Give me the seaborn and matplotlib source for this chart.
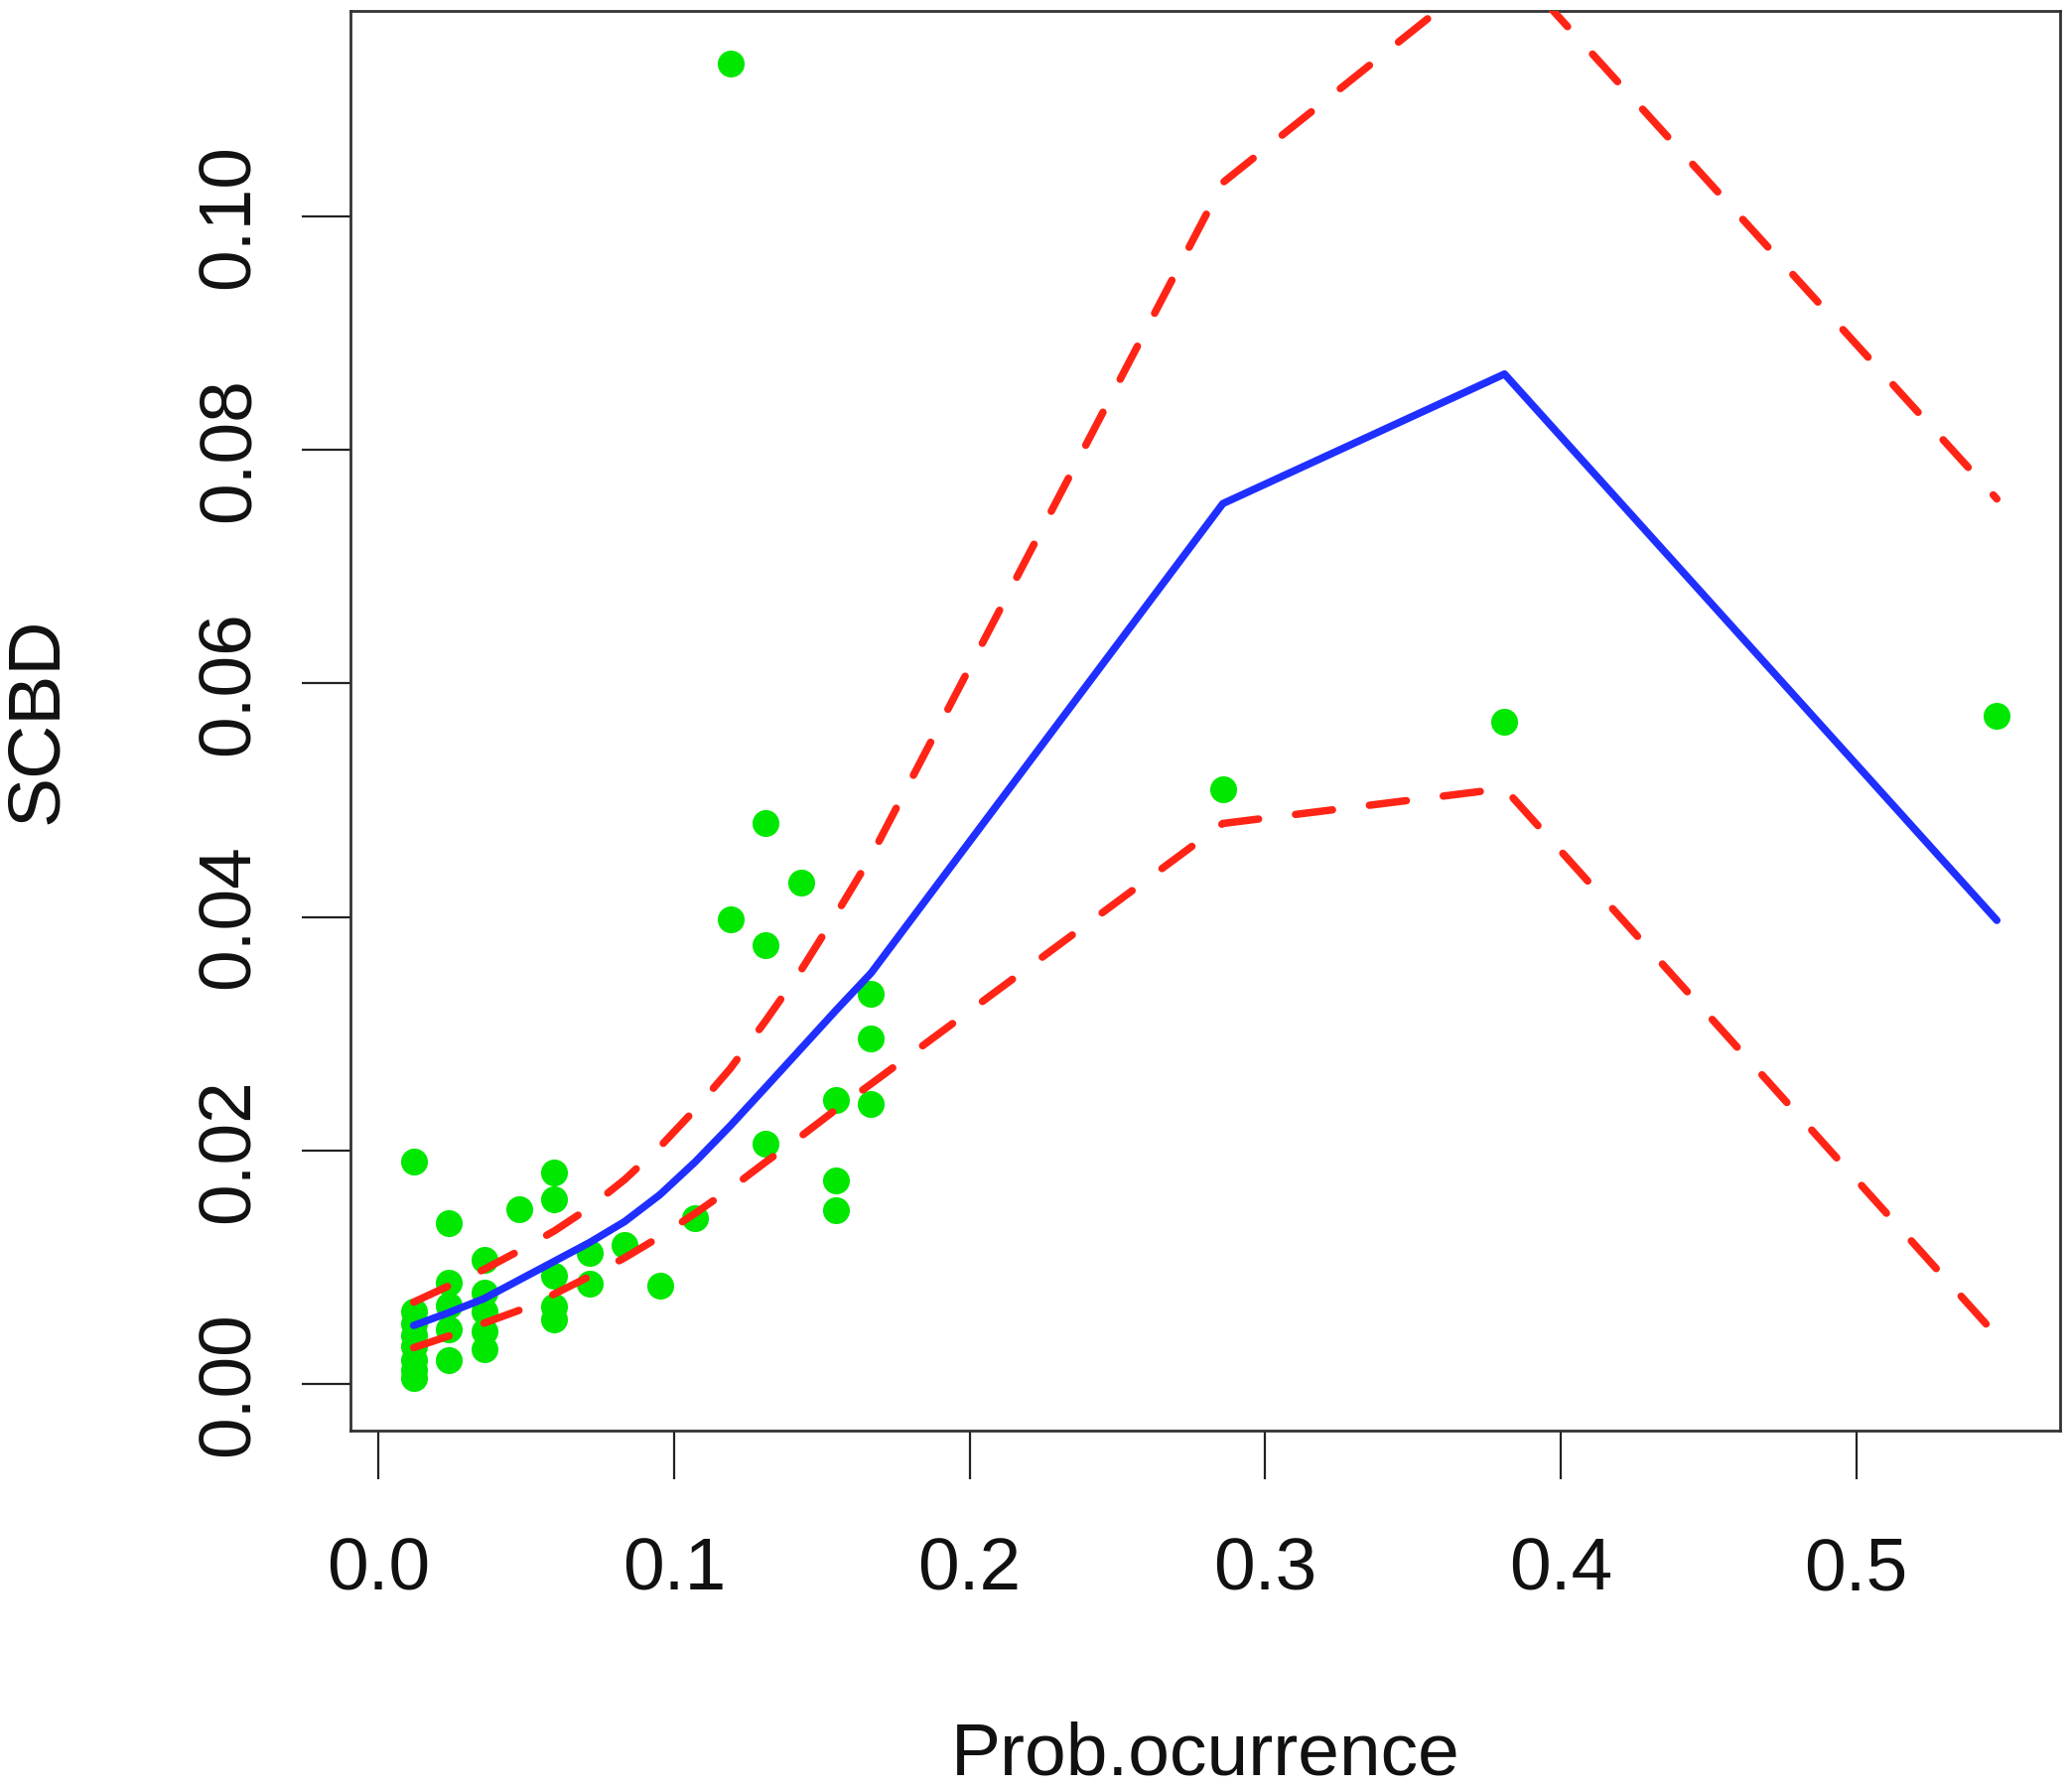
import numpy as np
import pandas as pd
import seaborn as sns
import matplotlib.pyplot as plt

# scatter points (Prob.ocurrence, SCBD)
pt_x = [0.0119, 0.0119, 0.0119, 0.0119, 0.0119, 0.0119, 0.0119, 0.0119,
        0.0238, 0.0238, 0.0238, 0.0238, 0.0238,
        0.0357, 0.0357, 0.0357, 0.0357, 0.0357,
        0.0476,
        0.0595, 0.0595, 0.0595, 0.0595, 0.0595,
        0.0714, 0.0714,
        0.0833,
        0.0952,
        0.1071,
        0.1190, 0.1190,
        0.1310, 0.1310, 0.1310,
        0.1429,
        0.1548, 0.1548, 0.1548,
        0.1667, 0.1667, 0.1667,
        0.2857,
        0.3810,
        0.5476]
pt_y = [0.0190, 0.0062, 0.0052, 0.0042, 0.0032, 0.0020, 0.0012, 0.0005,
        0.0138, 0.0087, 0.0067, 0.0047, 0.0020,
        0.0106, 0.0078, 0.0062, 0.0045, 0.0030,
        0.0150,
        0.0181, 0.0158, 0.0093, 0.0066, 0.0055,
        0.0112, 0.0086,
        0.0119,
        0.0084,
        0.0142,
        0.1131, 0.0398,
        0.0480, 0.0376, 0.0206,
        0.0429,
        0.0243, 0.0174, 0.0149,
        0.0334, 0.0296, 0.0240,
        0.0509,
        0.0567,
        0.0572]

# fitted curve and its bounds
line_x = [0.0119, 0.0238, 0.0357, 0.0476, 0.0595, 0.0714, 0.0833, 0.0952, 0.1071,
          0.1190, 0.1310, 0.1429, 0.1548, 0.1667, 0.2857, 0.3810, 0.5476]
fit = [0.0050, 0.0061, 0.0073, 0.0089, 0.0105, 0.0121, 0.0139, 0.0162, 0.0190,
       0.0221, 0.0254, 0.0287, 0.0320, 0.0352, 0.0754, 0.0865, 0.0397]
upper = [0.0070, 0.0084, 0.0098, 0.0114, 0.0131, 0.0151, 0.0175, 0.0203, 0.0235,
         0.0270, 0.0311, 0.0354, 0.0402, 0.0452, 0.1029, 0.1222, 0.0758]
lower = [0.0031, 0.0041, 0.0052, 0.0063, 0.0077, 0.0092, 0.0108, 0.0126, 0.0146,
         0.0167, 0.0190, 0.0212, 0.0235, 0.0257, 0.0480, 0.0510, 0.0041]

x_ticks = [0.0, 0.1, 0.2, 0.3, 0.4, 0.5]
y_ticks = [0.00, 0.02, 0.04, 0.06, 0.08, 0.10]

pts = pd.DataFrame({"Prob.ocurrence": pt_x, "SCBD": pt_y})
lines = pd.DataFrame({"x": line_x, "fit": fit, "upper": upper, "lower": lower})

sns.set_style("ticks")
plt.rcParams["font.family"] = ["Liberation Sans", "DejaVu Sans"]

fig = plt.figure(figsize=(20.87, 18.01), dpi=100)
ax = fig.add_axes([0.1691, 0.1999, 0.8252, 0.7940])

sns.scatterplot(data=pts, x="Prob.ocurrence", y="SCBD", color="#00e800",
                s=380, linewidth=0, ax=ax, zorder=2)
sns.lineplot(data=lines, x="x", y="fit", color="#1f2fff", lw=5.4,
             solid_capstyle="round", solid_joinstyle="round", ax=ax, zorder=3)
for col in ["upper", "lower"]:
    sns.lineplot(data=lines, x="x", y=col, color="#ff2416", lw=5.4,
                 linestyle=(0, (5.0, 5.0)), dash_capstyle="round", ax=ax, zorder=3)

# R-style 4% padding around the points
xr = max(pt_x) - min(pt_x)
yr = max(pt_y) - min(pt_y)
ax.set_xlim(min(pt_x) - 0.04 * xr, max(pt_x) + 0.04 * xr)
ax.set_ylim(min(pt_y) - 0.04 * yr, max(pt_y) + 0.04 * yr)

ax.set_xticks(x_ticks)
ax.set_xticklabels([f"{v:.1f}" for v in x_ticks])
ax.set_yticks(y_ticks)
ax.set_yticklabels([f"{v:.2f}" for v in y_ticks])

ax.tick_params(axis="both", direction="out", length=35, width=1.6,
               color="#222222", labelsize=54, labelcolor="#111111")
ax.tick_params(axis="x", pad=42)
ax.tick_params(axis="y", pad=28, labelrotation=90)
for lab in ax.get_yticklabels():
    lab.set_verticalalignment("center")
    lab.set_horizontalalignment("right")

for sp in ax.spines.values():
    sp.set_visible(True)
    sp.set_linewidth(2.0)
    sp.set_color("#333333")

ax.set_xlabel("Prob.ocurrence", fontsize=54, color="#111111", va="baseline")
ax.set_ylabel("SCBD", fontsize=54, color="#111111", va="center")
ax.xaxis.set_label_coords(0.5, -0.242)
ax.yaxis.set_label_coords(-0.183, 0.5)
ax.grid(False)

fig.savefig("out.png", dpi=100, facecolor="white")
